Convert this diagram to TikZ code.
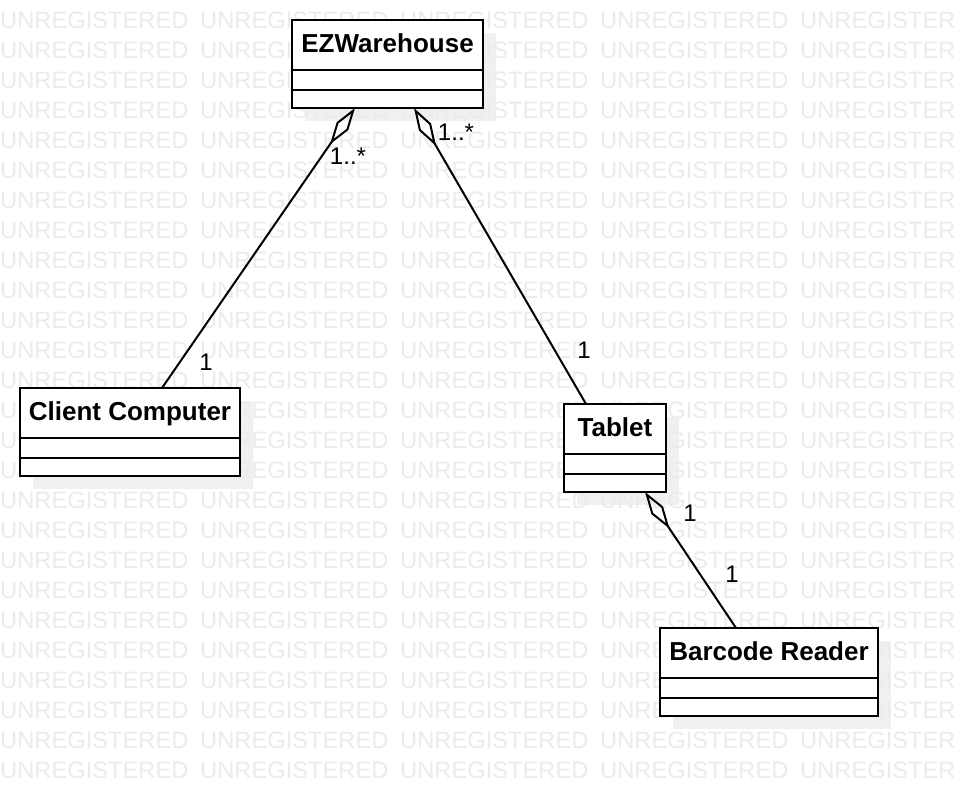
\documentclass[tikz,border=0pt]{standalone}
\usepackage{fontspec}
\setmainfont{Liberation Sans}
\usetikzlibrary{shapes.multipart,arrows.meta,backgrounds}

\newcommand{\umlhead}[1]{\rule[-17pt]{0pt}{48pt}#1\nodepart{two}\rule{0pt}{18pt}\nodepart{three}\rule{0pt}{16pt}}

\tikzset{
  umlclass/.style={rectangle split, rectangle split parts=3, draw, line width=2pt,
    fill=white, inner xsep=0pt, inner ysep=0pt, outer sep=0pt, anchor=north west,
    font=\fontsize{26}{30}\selectfont\bfseries},
  aggr/.style={{Diamond[open,length=44pt,width=14pt]}-},
  mult/.style={font=\fontsize{24}{28}\selectfont, inner sep=0pt},
  wmark/.style={font=\fontsize{23.7}{28}\selectfont, text=black!8, inner sep=0pt, anchor=west},
}

\begin{document}
\begin{tikzpicture}[x=1pt,y=-1pt,line width=2pt]

\useasboundingbox (0,0) rectangle (956,796);

% classes
\node[umlclass, minimum width=191pt] (ezw) at (292,20) {\umlhead{EZWarehouse}};
\node[umlclass, minimum width=220pt] (client) at (20,388) {\umlhead{Client Computer}};
\node[umlclass, minimum width=102pt] (tablet) at (564,404) {\umlhead{Tablet}};
\node[umlclass, minimum width=218pt] (barcode) at (660,628) {\umlhead{Barcode Reader}};

% ends of the associations
\coordinate (ezw-l) at ([xshift=63pt]ezw.south west);
\coordinate (ezw-r) at ([xshift=122pt]ezw.south west);
\coordinate (client-t) at ([xshift=142pt]client.north west);
\coordinate (tablet-t) at ([xshift=22pt]tablet.north west);
\coordinate (tablet-b) at ([xshift=81pt]tablet.south west);
\coordinate (barcode-t) at ([xshift=76pt]barcode.north west);

\draw[aggr] (ezw-l) -- (client-t);
\draw[aggr] (ezw-r) -- (tablet-t);
\draw[aggr] (tablet-b) -- (barcode-t);

% multiplicities
\node[mult] (m-ezw-l) at (348,156) {1..*};
\node[mult] (m-client) at (206,362) {1};
\node[mult] (m-ezw-r) at (456,132) {1..*};
\node[mult] (m-tablet-t) at (584,350) {1};
\node[mult] (m-tablet-b) at (690,513) {1};
\node[mult] (m-barcode) at (732,574) {1};

% shadows and watermark
\begin{scope}[on background layer]
\clip (0,0) rectangle (956,796);
\foreach \c in {ezw,client,tablet,barcode}
  \fill[black!6] ([shift={(13pt,-13pt)}]\c.north west) rectangle ([shift={(13pt,-13pt)}]\c.south east);
\foreach \r in {-1,...,25}
  \foreach \k in {0,...,4}
    \node[wmark] (wm-\r-\k) at (200*\k,20+30*\r) {UNREGISTERED};
\end{scope}

\end{tikzpicture}
\end{document}
